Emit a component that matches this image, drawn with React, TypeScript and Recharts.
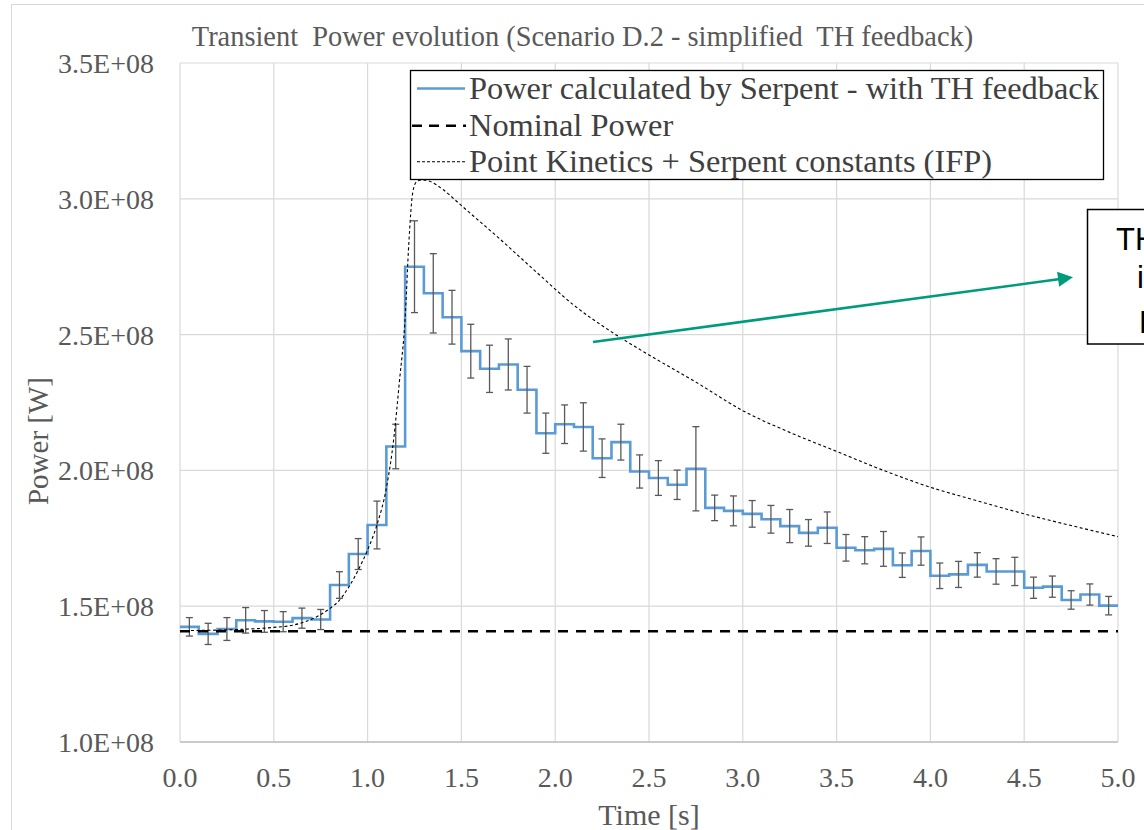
import {
  ComposedChart,
  Line,
  XAxis,
  YAxis,
  CartesianGrid,
  ErrorBar,
  ReferenceLine,
} from "recharts";

// Serpent power per 0.1 s time bin (start of bin, s)
const binStart = [
  0.0, 0.1, 0.2, 0.3, 0.4, 0.5, 0.6, 0.7, 0.8, 0.9,
  1.0, 1.1, 1.2, 1.3, 1.4, 1.5, 1.6, 1.7, 1.8, 1.9,
  2.0, 2.1, 2.2, 2.3, 2.4, 2.5, 2.6, 2.7, 2.8, 2.9,
  3.0, 3.1, 3.2, 3.3, 3.4, 3.5, 3.6, 3.7, 3.8, 3.9,
  4.0, 4.1, 4.2, 4.3, 4.4, 4.5, 4.6, 4.7, 4.8, 4.9,
];

const serpentPower = [
  1.424e8, 1.398e8, 1.416e8, 1.448e8, 1.444e8, 1.443e8, 1.456e8, 1.451e8, 1.578e8, 1.692e8,
  1.799e8, 2.088e8, 2.75e8, 2.652e8, 2.564e8, 2.439e8, 2.374e8, 2.39e8, 2.297e8, 2.137e8,
  2.17e8, 2.16e8, 2.045e8, 2.104e8, 1.996e8, 1.972e8, 1.947e8, 2.006e8, 1.862e8, 1.851e8,
  1.84e8, 1.82e8, 1.795e8, 1.77e8, 1.789e8, 1.715e8, 1.706e8, 1.711e8, 1.651e8, 1.703e8,
  1.612e8, 1.617e8, 1.652e8, 1.628e8, 1.628e8, 1.568e8, 1.572e8, 1.523e8, 1.543e8, 1.502e8,
];

// statistical error (1 sigma) of each bin
const serpentError = [
  0.034e8, 0.039e8, 0.042e8, 0.047e8, 0.04e8, 0.037e8, 0.037e8, 0.037e8, 0.049e8, 0.057e8,
  0.088e8, 0.082e8, 0.169e8, 0.146e8, 0.099e8, 0.099e8, 0.087e8, 0.094e8, 0.086e8, 0.074e8,
  0.071e8, 0.089e8, 0.071e8, 0.066e8, 0.061e8, 0.064e8, 0.054e8, 0.155e8, 0.047e8, 0.055e8,
  0.049e8, 0.051e8, 0.061e8, 0.049e8, 0.058e8, 0.049e8, 0.05e8, 0.064e8, 0.045e8, 0.052e8,
  0.047e8, 0.048e8, 0.045e8, 0.047e8, 0.052e8, 0.039e8, 0.039e8, 0.034e8, 0.039e8, 0.034e8,
];

// point kinetics solution
const pkTime = [
  0, 0.3, 0.5, 0.6, 0.7, 0.8, 0.85, 0.9, 0.95, 1.0, 1.05, 1.1, 1.14, 1.17, 1.2, 1.22,
  1.24, 1.26, 1.29, 1.33, 1.4, 1.5, 1.7, 1.9, 2.1, 2.3, 2.5, 2.75, 3.0, 3.25, 3.5,
  3.75, 4.0, 4.25, 4.5, 4.75, 5.0,
];
const pkPower = [
  1.41e8, 1.414e8, 1.422e8, 1.43e8, 1.452e8, 1.492e8, 1.522e8, 1.571e8, 1.633e8, 1.707e8,
  1.8e8, 1.935e8, 2.12e8, 2.33e8, 2.56e8, 2.84e8, 3.02e8, 3.062e8, 3.07e8, 3.065e8,
  3.035e8, 2.975e8, 2.855e8, 2.73e8, 2.608e8, 2.51e8, 2.425e8, 2.325e8, 2.22e8, 2.14e8,
  2.07e8, 2.0e8, 1.938e8, 1.888e8, 1.84e8, 1.797e8, 1.756e8,
];

const nominalPower = 1.408e8;

const xTicks = [0, 0.5, 1, 1.5, 2, 2.5, 3, 3.5, 4, 4.5, 5];
const minorTicks = [
  0, 0.1, 0.2, 0.3, 0.4, 0.5, 0.6, 0.7, 0.8, 0.9, 1, 1.1, 1.2, 1.3, 1.4, 1.5, 1.6,
  1.7, 1.8, 1.9, 2, 2.1, 2.2, 2.3, 2.4, 2.5, 2.6, 2.7, 2.8, 2.9, 3, 3.1, 3.2, 3.3,
  3.4, 3.5, 3.6, 3.7, 3.8, 3.9, 4, 4.1, 4.2, 4.3, 4.4, 4.5, 4.6, 4.7, 4.8, 4.9, 5,
];
const yTicks = [1.0e8, 1.5e8, 2.0e8, 2.5e8, 3.0e8, 3.5e8];

const stepData = binStart
  .map((t, i) => ({ t, p: serpentPower[i] }))
  .concat([{ t: 5, p: serpentPower[serpentPower.length - 1] }]);
const errData = binStart.map((t, i) => ({
  t: t + 0.05,
  p: serpentPower[i],
  e: serpentError[i],
}));
const pkData = pkTime.map((t, i) => ({ t, p: pkPower[i] }));
const nominalData = [
  { t: 0, p: nominalPower },
  { t: 5, p: nominalPower },
];

const serif = "'Liberation Serif', 'Times New Roman', serif";
const grey = "#595959";

const fmtY = (v: number) => (v / 1e8).toFixed(1) + "E+08";

const Arrow = (props: any) => {
  const { x1, y1, x2, y2 } = props;
  const a = Math.atan2(y2 - y1, x2 - x1);
  const len = 15;
  const half = 7.5;
  const bx = x2 - len * Math.cos(a);
  const by = y2 - len * Math.sin(a);
  const px = -Math.sin(a) * half;
  const py = Math.cos(a) * half;
  return (
    <g>
      <line x1={x1} y1={y1} x2={bx + 2 * Math.cos(a)} y2={by + 2 * Math.sin(a)} stroke="#009B7D" strokeWidth={2.6} />
      <polygon
        points={`${x2},${y2} ${bx + px},${by + py} ${bx - px},${by - py}`}
        fill="#009B7D"
      />
    </g>
  );
};

const App = () => {
  return (
    <div
      style={{
        position: "fixed",
        left: 0,
        top: 0,
        width: 1144,
        height: 830,
        overflow: "hidden",
        background: "#fff",
      }}
    >
      <ComposedChart
        width={1144}
        height={830}
        margin={{ top: 63, right: 26, bottom: 28, left: 0 }}
      >
        <CartesianGrid stroke="#D9D9D9" strokeWidth={1.2} />
        <XAxis
          dataKey="t"
          type="number"
          domain={[0, 5]}
          ticks={xTicks}
          interval={0}
          tickFormatter={(v: number) => v.toFixed(1)}
          height={60}
          tickSize={0}
          tickMargin={25}
          tickLine={false}
          axisLine={{ stroke: "#BFBFBF", strokeWidth: 1.3 }}
          tick={{ fill: grey, fontSize: 28, fontFamily: serif }}
          label={{
            content: (p: any) => (
              <text
                x={p.viewBox.x + p.viewBox.width / 2}
                y={825}
                textAnchor="middle"
                fill={grey}
                fontSize={30}
                fontFamily={serif}
              >
                Time [s]
              </text>
            ),
          }}
        />
        <XAxis
          xAxisId="minor"
          dataKey="t"
          type="number"
          domain={[0, 5]}
          ticks={minorTicks}
          interval={0}
          mirror
          tick={false}
          tickSize={6}
          tickLine={{ stroke: "#BFBFBF", strokeWidth: 1.2 }}
          axisLine={false}
        />
        <YAxis
          type="number"
          domain={[1.0e8, 3.5e8]}
          ticks={yTicks}
          interval={0}
          width={180}
          tickSize={0}
          tickMargin={26}
          axisLine={false}
          tickLine={false}
          tickFormatter={fmtY}
          tick={{ fill: grey, fontSize: 28, fontFamily: serif }}
          label={{
            content: () => (
              <text
                transform="translate(38, 441) rotate(-90)"
                textAnchor="middle"
                dominantBaseline="central"
                fill={grey}
                fontSize={29}
                fontFamily={serif}
              >
                Power [W]
              </text>
            ),
          }}
        />
        <Line
          data={stepData}
          dataKey="p"
          type="stepAfter"
          stroke="#5B9BD5"
          strokeWidth={2.6}
          dot={false}
          activeDot={false}
          isAnimationActive={false}
        />
        <Line
          data={errData}
          dataKey="p"
          stroke="none"
          dot={false}
          activeDot={false}
          isAnimationActive={false}
        >
          <ErrorBar dataKey="e" direction="y" width={3.5} stroke={grey} strokeWidth={1.3} />
        </Line>
        <Line
          data={nominalData}
          dataKey="p"
          stroke="#000"
          strokeWidth={2.6}
          strokeDasharray="10 8"
          dot={false}
          activeDot={false}
          isAnimationActive={false}
        />
        <Line
          data={pkData}
          dataKey="p"
          type="monotone"
          stroke="#000"
          strokeWidth={1.1}
          strokeDasharray="3 2.5"
          dot={false}
          activeDot={false}
          isAnimationActive={false}
        />
        <ReferenceLine
          segment={[
            { x: 2.2015, y: 2.473e8 },
            { x: 4.76, y: 2.711e8 },
          ]}
          stroke="#009B7D"
          ifOverflow="visible"
          shape={Arrow}
        />
      </ComposedChart>

      <svg
        width={1144}
        height={830}
        style={{ position: "absolute", left: 0, top: 0, pointerEvents: "none" }}
      >
        <rect x={11.5} y={4.5} width={1300} height={1000} fill="none" stroke="#D9D9D9" />
        <text
          x={582.5}
          y={45.5}
          textAnchor="middle"
          fill={grey}
          fontSize={28.4}
          fontFamily={serif}
          style={{ whiteSpace: "pre" }}
        >
          {"Transient  Power evolution (Scenario D.2 - simplified  TH feedback)"}
        </text>

        <rect x={410.5} y={70.5} width={693} height={109} fill="#fff" stroke="#000" strokeWidth={1.3} />
        <line x1={417} y1={88.5} x2={465} y2={88.5} stroke="#5B9BD5" strokeWidth={2.6} />
        <line x1={412} y1={125.7} x2={466} y2={125.7} stroke="#000" strokeWidth={2.6} strokeDasharray="10 7" />
        <line x1={417} y1={161.7} x2={465} y2={161.7} stroke="#000" strokeWidth={1.1} strokeDasharray="3 2" />
        <g fill="#404040" fontSize={32.4} fontFamily={serif}>
          <text x={469} y={99}>Power calculated by Serpent - with TH feedback</text>
          <text x={469} y={136}>Nominal Power</text>
          <text x={469} y={172}>Point Kinetics + Serpent constants (IFP)</text>
        </g>

        <rect x={1087.5} y={209.5} width={200} height={134.5} fill="#fff" stroke="#000" strokeWidth={1.5} />
        <g fill="#000" fontSize={31} fontFamily="'Liberation Sans', Arial, sans-serif">
          <text x={1116} y={250}>TH feedback</text>
          <text x={1137} y={288}>is limiting</text>
          <text x={1139} y={333}>Peak power</text>
        </g>
      </svg>
    </div>
  );
};

export default App;
